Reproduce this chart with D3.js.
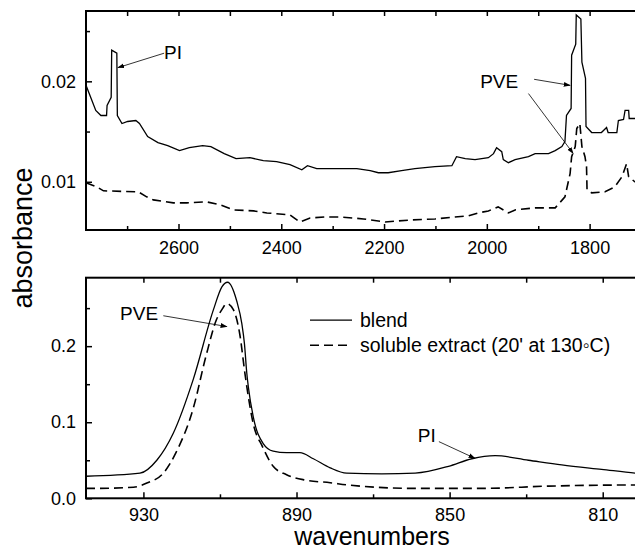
<!DOCTYPE html>
<html>
<head>
<meta charset="utf-8">
<script src="https://cdn.jsdelivr.net/npm/d3@7"></script>
<style>
  body { margin: 0; background: #fff; }
  text { font-family: "Liberation Sans", Arial, sans-serif; }
</style>
</head>
<body>
<div id="my_dataviz"></div>
<script>
// upper panel: 2780-1700 cm-1
var topWnBlend = [2780, 2770, 2761, 2751, 2740, 2739, 2731, 2730, 2720, 2719, 2710, 2699, 2683, 2676, 2660, 2640, 2621, 2598, 2579, 2553, 2537, 2511, 2488, 2461, 2435, 2409, 2383, 2360, 2349, 2331, 2305, 2273, 2253, 2227, 2211, 2192, 2166, 2140, 2101, 2068, 2059, 2042, 2023, 1997, 1987, 1981, 1971, 1968, 1958, 1945, 1919, 1906, 1880, 1867, 1854, 1848, 1845, 1836, 1835, 1827, 1826, 1817, 1815, 1808, 1807, 1796, 1777, 1767, 1764, 1747, 1744, 1734, 1731, 1724, 1723, 1712, 1700];
var topBlend = [0.0196, 0.0183, 0.0171, 0.0166, 0.0166, 0.0176, 0.0184, 0.0231, 0.0228, 0.0166, 0.0158, 0.0160, 0.0161, 0.0158, 0.0145, 0.0139, 0.0136, 0.0131, 0.0134, 0.0136, 0.0135, 0.0128, 0.0123, 0.0124, 0.0121, 0.0120, 0.0117, 0.0112, 0.0116, 0.0113, 0.0113, 0.0113, 0.0113, 0.0111, 0.0109, 0.0109, 0.0111, 0.0113, 0.0115, 0.0116, 0.0125, 0.0123, 0.0122, 0.0124, 0.0128, 0.0134, 0.0130, 0.0122, 0.0119, 0.0122, 0.0125, 0.0128, 0.0128, 0.0131, 0.0135, 0.0140, 0.0166, 0.0173, 0.0226, 0.0237, 0.0266, 0.0262, 0.0219, 0.0203, 0.0155, 0.0149, 0.0149, 0.0154, 0.0149, 0.0149, 0.0161, 0.0162, 0.0171, 0.0171, 0.0163, 0.0163, 0.0163];

var topWnExtract = [2780, 2759, 2746, 2678, 2662, 2649, 2610, 2584, 2545, 2519, 2493, 2454, 2428, 2383, 2364, 2344, 2312, 2286, 2240, 2198, 2146, 2101, 2062, 2036, 2017, 1997, 1978, 1958, 1945, 1906, 1867, 1848, 1838, 1835, 1828, 1825, 1819, 1815, 1809, 1806, 1805, 1796, 1770, 1751, 1737, 1728, 1724, 1712, 1700];
var topExtract = [0.0099, 0.0095, 0.0091, 0.0090, 0.0085, 0.0082, 0.0079, 0.0079, 0.0080, 0.0077, 0.0072, 0.0071, 0.0069, 0.0067, 0.0060, 0.0064, 0.0065, 0.0065, 0.0063, 0.0060, 0.0062, 0.0063, 0.0065, 0.0066, 0.0069, 0.0071, 0.0075, 0.0069, 0.0072, 0.0074, 0.0074, 0.0085, 0.0108, 0.0125, 0.0135, 0.0153, 0.0158, 0.0135, 0.0125, 0.0115, 0.0092, 0.0089, 0.0090, 0.0095, 0.0105, 0.0118, 0.0105, 0.0100, 0.0100];

// lower panel: 945-800 cm-1
var botWnBlend = [945, 930.9, 926.5, 922.2, 917.0, 911.7, 909.5, 908.0, 905.6, 904.3, 903.6, 903.0, 902.6, 901.3, 898.7, 896.1, 892.6, 889.1, 885.6, 881.2, 876.9, 867.7, 859.0, 850.3, 844.2, 838.1, 829.4, 820.7, 810.3, 801.5, 800];
var botBlend = [0.029, 0.033, 0.050, 0.0855, 0.156, 0.248, 0.278, 0.284, 0.259, 0.230, 0.203, 0.165, 0.147, 0.107, 0.072, 0.062, 0.060, 0.060, 0.052, 0.040, 0.033, 0.032, 0.033, 0.042, 0.052, 0.056, 0.050, 0.044, 0.038, 0.033, 0.032];

var botWnExtract = [945, 943.2, 932.6, 929.1, 924.8, 921.4, 917.0, 913.6, 910.9, 909.5, 908.2, 906.5, 904.8, 903.5, 902.6, 901.3, 898.9, 896.1, 892.6, 887.8, 881.2, 876.5, 859.0, 841.6, 824.2, 801.5, 800];
var botExtract = [0.013, 0.013, 0.0145, 0.020, 0.033, 0.061, 0.118, 0.188, 0.235, 0.248, 0.256, 0.248, 0.215, 0.165, 0.134, 0.098, 0.068, 0.042, 0.031, 0.024, 0.0205, 0.0175, 0.013, 0.013, 0.016, 0.0175, 0.0175];

var topTicks = [2600, 2400, 2200, 2000, 1800];
var topMinor = [2700, 2500, 2300, 2100, 1900];
var topYTicks = [0.01, 0.02];
var topYMinor = [0.015, 0.025];
var botTicks = [930, 890, 850, 810];
var botMinor = [910, 870, 830];
var botYTicks = [0.0, 0.1, 0.2];
var botYMinor = [0.05, 0.15, 0.25];

var seriesNames = ["blend", "soluble extract (20' at 130\u25E6C)"];

var W = 635, H = 552,
    left = 86, plotW = 555;

var svg = d3.select("#my_dataviz")
  .append("svg")
    .attr("width", W)
    .attr("height", H);

// arrow marker
svg.append("defs").append("marker")
    .attr("id", "arrow")
    .attr("viewBox", "0 0 10 10")
    .attr("refX", 9).attr("refY", 5)
    .attr("markerWidth", 7).attr("markerHeight", 7)
    .attr("markerUnits", "userSpaceOnUse")
    .attr("orient", "auto")
  .append("path")
    .attr("d", "M0,1.5L10,5L0,8.5Z")
    .attr("fill", "#000");

function panel(opt) {
  var g = svg.append("g")
      .attr("transform", "translate(" + left + "," + opt.top + ")");

  var x = d3.scaleLinear().domain(opt.xDomain).range([0, plotW]);
  var y = d3.scaleLinear().domain(opt.yDomain).range([opt.h, 0]);

  // ticks pointing inward on all sides
  g.append("g")
    .attr("class", "axis")
    .attr("transform", "translate(0," + opt.h + ")")
    .call(d3.axisBottom(x).tickValues(opt.xTicks).tickSize(-6).tickPadding(opt.xPad).tickFormat(d3.format("d")));
  g.append("g")
    .attr("class", "axis")
    .attr("transform", "translate(0," + opt.h + ")")
    .call(d3.axisBottom(x).tickValues(opt.xMinor).tickSize(-4).tickFormat(""));
  g.append("g")
    .attr("class", "axis")
    .call(d3.axisTop(x).tickValues(opt.xTicks.concat(opt.xMinor)).tickSize(-5).tickFormat(""));
  g.append("g")
    .attr("class", "axis")
    .call(d3.axisLeft(y).tickValues(opt.yTicks).tickSize(-6).tickPadding(10).tickFormat(d3.format(opt.yFmt)));
  g.append("g")
    .attr("class", "axis")
    .call(d3.axisLeft(y).tickValues(opt.yMinor).tickSize(-4).tickFormat(""));

  g.selectAll(".axis .domain").remove();
  g.selectAll(".axis line").attr("stroke", "#000").attr("stroke-width", 1.5);
  g.selectAll(".axis text")
    .attr("font-size", 18)
    .attr("fill", "#000")
    .attr("font-family", "'Liberation Sans', Arial, sans-serif");

  g.append("rect")
    .attr("width", plotW)
    .attr("height", opt.h)
    .attr("fill", "none")
    .attr("stroke", "#000")
    .attr("stroke-width", 2);

  var line = d3.line()
    .x(function(d) { return x(d[0]); })
    .y(function(d) { return y(d[1]); })
    .curve(opt.curve);

  g.append("path")
    .datum(d3.zip(opt.wn1, opt.v1))
    .attr("d", line)
    .attr("fill", "none")
    .attr("stroke", "#000")
    .attr("stroke-width", 1.3);

  g.append("path")
    .datum(d3.zip(opt.wn2, opt.v2))
    .attr("d", line)
    .attr("fill", "none")
    .attr("stroke", "#000")
    .attr("stroke-width", 1.6)
    .attr("stroke-dasharray", "9,5");

  // labels with arrows
  opt.notes.forEach(function(n) {
    g.append("text")
      .attr("x", x(n.text[0]))
      .attr("y", y(n.text[1]))
      .attr("font-size", 19)
      .text(n.label);
    n.arrows.forEach(function(a) {
      g.append("line")
        .attr("x1", x(a[0])).attr("y1", y(a[1]))
        .attr("x2", x(a[2])).attr("y2", y(a[3]))
        .attr("stroke", "#000")
        .attr("stroke-width", 0.8)
        .attr("marker-end", "url(#arrow)");
    });
  });

  return g;
}

panel({
  top: 11, h: 219,
  xDomain: [2780, 1700], yDomain: [0.0052, 0.027],
  xTicks: topTicks, xMinor: topMinor, xPad: 11,
  yTicks: topYTicks, yMinor: topYMinor, yFmt: ".2f",
  curve: d3.curveLinear,
  wn1: topWnBlend, v1: topBlend, wn2: topWnExtract, v2: topExtract,
  notes: [
    {label: "PI", text: [2628, 0.0222], arrows: [[2628, 0.0228, 2718, 0.02136]]},
    {label: "PVE", text: [2013, 0.0193], arrows: [[1908, 0.0202, 1838, 0.0196], [1919, 0.01878, 1832, 0.01282]]}
  ]
});

var bottom = panel({
  top: 277.7, h: 220.6,
  xDomain: [945, 800], yDomain: [0, 0.29],
  xTicks: botTicks, xMinor: botMinor, xPad: 10,
  yTicks: botYTicks, yMinor: botYMinor, yFmt: ".1f",
  curve: d3.curveMonotoneX,
  wn1: botWnBlend, v1: botBlend, wn2: botWnExtract, v2: botExtract,
  notes: [
    {label: "PVE", text: [936.1, 0.2347], arrows: [[924.8, 0.240, 908.2, 0.2258]]},
    {label: "PI", text: [858.3, 0.0741], arrows: [[852.8, 0.0745, 843.4, 0.0526]]}
  ]
});

// legend
var legend = bottom.append("g").attr("transform", "translate(224,42.5)");
seriesNames.forEach(function(name, i) {
  legend.append("line")
    .attr("x1", 0).attr("x2", 42)
    .attr("y1", i * 25).attr("y2", i * 25)
    .attr("stroke", "#000")
    .attr("stroke-width", i ? 1.6 : 1.3)
    .attr("stroke-dasharray", i ? "9,5" : null);
  legend.append("text")
    .attr("x", 50)
    .attr("y", i * 25 + 7)
    .attr("font-size", 19.5)
    .text(name);
});

// axis titles
svg.append("text")
    .attr("transform", "translate(32,238) rotate(-90)")
    .attr("text-anchor", "middle")
    .attr("font-size", 27)
    .text("absorbance");

svg.append("text")
    .attr("x", 372)
    .attr("y", 545)
    .attr("text-anchor", "middle")
    .attr("font-size", 25)
    .text("wavenumbers");
</script>
</body>
</html>
